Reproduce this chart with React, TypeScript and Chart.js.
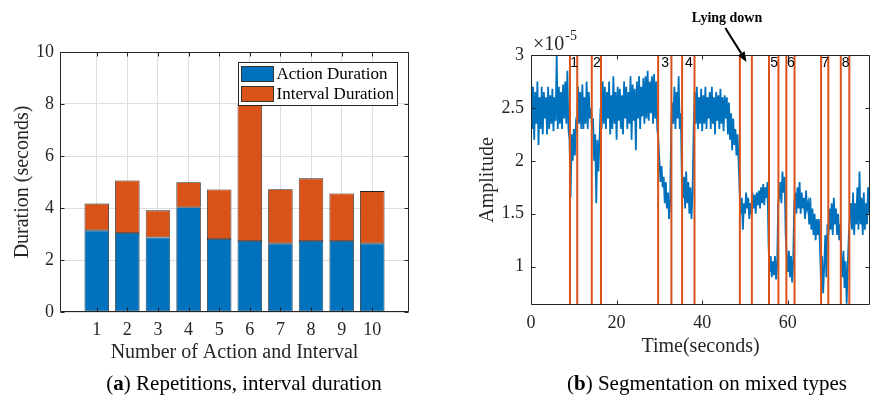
import React, { useEffect, useRef } from "react";
import { Chart, registerables } from "chart.js";

Chart.register(...registerables);

// ---------- (a) bar chart data ----------
const BAR_CATEGORIES = [1, 2, 3, 4, 5, 6, 7, 8, 9, 10];
const ACTION_DURATION = [3.14, 3.04, 2.87, 4.03, 2.81, 2.73, 2.64, 2.73, 2.73, 2.64];
const INTERVAL_DURATION = [1.03, 2.02, 1.04, 0.96, 1.9, 5.27, 2.08, 2.41, 1.83, 2.01];
const BAR_Y_TICKS = [0, 2, 4, 6, 8, 10];

// ---------- (b) segmentation data (amplitude in units of 1e-5) ----------
const SIGNAL_STEP_S = 0.25;
const SIGNAL = [
  2.85, 2.3, 2.7, 2.2, 2.65, 2.35, 2.75, 2.15, 2.6, 2.3, 2.7, 2.25, 2.65, 2.4, 2.6, 2.25, 2.7, 2.3, 2.62, 2.35,
  2.68, 2.28, 2.6, 2.38, 3.0, 2.3, 2.7, 2.35, 2.65, 2.3, 2.72, 2.4, 2.75, 2.35, 2.85, 2.3, 2.2, 1.65, 2.25, 2.0,
  2.3, 2.05, 2.35, 2.3, 2.7, 2.35, 2.65, 2.3, 2.72, 2.3, 2.6, 2.35, 2.75, 2.3, 2.65, 2.4, 2.5, 2.3, 2.4, 2.0,
  2.25, 1.6, 2.2, 1.9, 2.2, 2.5, 2.3, 2.75, 2.35, 2.7, 2.3, 2.65, 2.4, 2.75, 2.25, 2.62, 2.3, 2.8, 2.35, 2.65,
  2.2, 2.7, 2.38, 2.68, 2.3, 2.62, 2.25, 2.75, 2.4, 2.7, 2.3, 2.65, 2.35, 2.8, 2.2, 2.72, 2.38, 2.68, 2.1, 2.75,
  2.4, 2.8, 2.3, 2.7, 2.42, 2.78, 2.35, 2.8, 2.4, 2.85, 2.38, 2.75, 2.45, 2.8, 2.35, 2.82, 2.4, 2.75, 2.3, 2.2,
  2.0, 1.8, 1.95, 1.75, 1.85, 1.6, 1.8, 1.55, 1.7, 1.45, 1.6, 2.3, 2.55, 2.35, 2.7, 2.3, 2.65, 2.4, 2.8, 2.3,
  2.45, 1.8, 1.65, 1.85, 1.55, 1.9, 1.6, 1.8, 1.5, 1.75, 1.45, 1.7, 2.3, 2.65, 2.35, 2.7, 2.3, 2.6, 2.35, 2.68,
  2.28, 2.62, 2.35, 2.7, 2.3, 2.6, 2.4, 2.65, 2.3, 2.7, 2.35, 2.6, 2.25, 2.65, 2.38, 2.62, 2.3, 2.68, 2.35, 2.6,
  2.28, 2.62, 2.4, 2.6, 2.25, 2.55, 2.2, 2.45, 2.1, 2.4, 2.15, 2.3, 2.05, 2.25, 2.0, 1.7, 1.5, 1.65, 1.35, 1.6,
  1.5, 1.7, 1.55, 1.65, 1.45, 1.6, 1.5, 1.7, 1.55, 1.68, 1.5, 1.7, 1.58, 1.72, 1.55, 1.75, 1.6, 1.78, 1.58, 1.75,
  1.65, 1.8, 1.2, 0.95, 1.1, 0.9, 1.05, 0.92, 1.1, 0.88, 1.0, 1.6, 1.65, 1.8, 1.6, 1.9, 1.7, 1.85, 1.3, 1.1,
  0.95, 1.15, 0.9, 1.1, 0.85, 1.05, 1.6, 1.7, 1.5, 1.75, 1.55, 1.8, 1.5, 1.7, 1.55, 1.65, 1.45, 1.72, 1.55, 1.6,
  1.4, 1.65, 1.35, 1.55, 1.3, 1.5, 1.25, 1.45, 1.3, 1.45, 1.2, 0.85, 1.1, 0.75, 1.0, 1.3, 0.9, 1.4, 1.3, 1.55,
  1.35, 1.6, 1.3, 1.65, 1.4, 1.55, 1.3, 1.5, 1.25, 1.4, 1.1, 0.9, 1.15, 0.8, 1.05, 0.65, 1.0, 1.3, 1.45, 1.6,
  1.35, 1.7, 1.3, 1.6, 1.4, 1.75, 1.35, 1.9, 1.4, 1.65, 1.3, 1.7, 1.35, 1.6, 1.4, 1.75, 1.5,
];
const SEG_START = [9.1, 14.2, 29.7, 35.3, 48.8, 55.6, 59.66, 67.77, 72.38];
const SEG_END = [10.8, 16.35, 32.8, 38.2, 51.6, 57.8, 61.57, 69.46, 74.37];
const SEG_LABELS = ["1", "2", "3", "4", "", "5", "6", "7", "8"];
const TIME_TICKS = [0, 20, 40, 60];
const AMP_TICKS = [1, 1.5, 2, 2.5, 3];
const AMP_TICK_LABELS = ["1", "1.5", "2", "2.5", "3"];

const SERIF = '"Liberation Serif", "Times New Roman", serif';
const SANS = '"Liberation Sans", Arial, sans-serif';
const AXIS_COLOR = "#262626";
const BLUE = "#0072BD";
const ORANGE = "#D95319";

// MATLAB-like box with inward tick marks on all four sides
const matlabBox = (xt: number[], yt: number[], len: number) => ({
  id: "matlabBox",
  afterDatasetsDraw(chart: any) {
    const { ctx, chartArea: a, scales } = chart;
    const xs = scales.x;
    const ys = scales.y;
    const L = Math.round(a.left) + 0.5;
    const R = Math.round(a.right) - 0.5;
    const T = Math.round(a.top) + 0.5;
    const B = Math.round(a.bottom) - 0.5;
    ctx.save();
    ctx.strokeStyle = AXIS_COLOR;
    ctx.lineWidth = 1;
    ctx.beginPath();
    for (const v of xt) {
      const p = Math.round(xs.getPixelForValue(v)) + 0.5;
      ctx.moveTo(p, B);
      ctx.lineTo(p, B - len);
      ctx.moveTo(p, T);
      ctx.lineTo(p, T + len);
    }
    for (const v of yt) {
      const p = Math.round(ys.getPixelForValue(v)) + 0.5;
      ctx.moveTo(L, p);
      ctx.lineTo(L + len, p);
      ctx.moveTo(R, p);
      ctx.lineTo(R - len, p);
    }
    ctx.rect(L, T, R - L, B - T);
    ctx.stroke();
    ctx.restore();
  },
});

const barLegend = {
  id: "barLegend",
  afterDatasetsDraw(chart: any) {
    const { ctx, chartArea: a } = chart;
    const w = 159;
    const h = 43;
    const x = Math.round(a.right - 12 - w) + 0.5;
    const y = Math.round(a.top + 10) + 0.5;
    ctx.save();
    ctx.fillStyle = "#ffffff";
    ctx.fillRect(x, y, w, h);
    ctx.strokeStyle = AXIS_COLOR;
    ctx.lineWidth = 1;
    ctx.strokeRect(x, y, w, h);
    const items = chart.data.datasets;
    items.forEach((ds: any, i: number) => {
      const ry = y + 4 + i * 20;
      ctx.fillStyle = ds.backgroundColor;
      ctx.fillRect(x + 3, ry, 32, 15);
      ctx.strokeStyle = "#333";
      ctx.strokeRect(x + 3, ry, 32, 15);
      ctx.fillStyle = "#000";
      ctx.font = `17px ${SERIF}`;
      ctx.textBaseline = "middle";
      ctx.textAlign = "left";
      ctx.fillText(ds.label, x + 38, ry + 8);
    });
    ctx.restore();
  },
};

const segAnnotations = {
  id: "segAnnotations",
  afterDraw(chart: any) {
    const { ctx, chartArea: a, scales } = chart;
    const xs = scales.x;
    const ys = scales.y;
    ctx.save();
    // segment numbers
    ctx.fillStyle = "#000";
    ctx.font = `14px ${SANS}`;
    ctx.textAlign = "center";
    ctx.textBaseline = "middle";
    SEG_LABELS.forEach((lab, i) => {
      if (!lab) return;
      const px = (xs.getPixelForValue(SEG_START[i]) + xs.getPixelForValue(SEG_END[i])) / 2;
      ctx.fillText(lab, px + 0.5, a.top + 8);
    });
    // exponent label
    ctx.fillStyle = AXIS_COLOR;
    ctx.textAlign = "left";
    ctx.font = `20px ${SERIF}`;
    const base = "\u00d710";
    ctx.fillText(base, a.left + 2, a.top - 10);
    const bw = ctx.measureText(base).width;
    ctx.font = `14px ${SERIF}`;
    ctx.fillText("-5", a.left + 2 + bw + 1, a.top - 19);
    // "Lying down" annotation with arrow
    ctx.fillStyle = "#000";
    ctx.font = `bold 14px ${SERIF}`;
    ctx.textAlign = "center";
    ctx.fillText("Lying down", xs.getPixelForValue(45.8), ys.getPixelForValue(3.35));
    const x0 = xs.getPixelForValue(45.4);
    const y0 = ys.getPixelForValue(3.255);
    const x1 = xs.getPixelForValue(50.35);
    const y1 = ys.getPixelForValue(2.935);
    const ang = Math.atan2(y1 - y0, x1 - x0);
    const hl = 10;
    const hw = 4;
    const bx = x1 - hl * Math.cos(ang);
    const by = y1 - hl * Math.sin(ang);
    ctx.strokeStyle = "#000";
    ctx.lineWidth = 2;
    ctx.beginPath();
    ctx.moveTo(x0, y0);
    ctx.lineTo(bx, by);
    ctx.stroke();
    ctx.beginPath();
    ctx.moveTo(x1, y1);
    ctx.lineTo(bx + hw * Math.sin(ang), by - hw * Math.cos(ang));
    ctx.lineTo(bx - hw * Math.sin(ang), by + hw * Math.cos(ang));
    ctx.closePath();
    ctx.fill();
    ctx.restore();
  },
};

const tickFont = { family: SERIF, size: 18 };
const titleFont = { family: SERIF, size: 20 };

function barConfig(): any {
  return {
    type: "bar",
    data: {
      datasets: [
        {
          label: "Action Duration",
          data: BAR_CATEGORIES.map((c, i) => ({ x: c, y: ACTION_DURATION[i] })),
          backgroundColor: BLUE,
          borderColor: "#222",
          borderWidth: 0.8,
          borderSkipped: false,
          barPercentage: 0.8,
          categoryPercentage: 1,
        },
        {
          label: "Interval Duration",
          data: BAR_CATEGORIES.map((c, i) => ({ x: c, y: INTERVAL_DURATION[i] })),
          backgroundColor: ORANGE,
          borderColor: "#222",
          borderWidth: 0.8,
          borderSkipped: false,
          barPercentage: 0.8,
          categoryPercentage: 1,
        },
      ],
    },
    options: {
      animation: false,
      responsive: false,
      events: [],
      layout: { padding: { top: 52, right: 21, left: 0, bottom: 0 } },
      plugins: { legend: { display: false }, tooltip: { enabled: false } },
      scales: {
        x: {
          type: "linear",
          min: -0.2,
          max: 11.2,
          offset: false,
          stacked: true,
          afterBuildTicks: (s: any) => {
            s.ticks = BAR_CATEGORIES.map((v) => ({ value: v }));
          },
          afterFit: (s: any) => {
            s.height = 60;
          },
          ticks: { font: tickFont, color: AXIS_COLOR, padding: 7, autoSkip: false, maxRotation: 0, callback: (v: any) => String(v) },
          grid: { color: "#dedede", drawTicks: false, offset: false },
          border: { display: false },
          title: { display: true, text: "Number of Action and Interval", font: titleFont, color: AXIS_COLOR, padding: { top: 0, bottom: 7 } },
        },
        y: {
          min: 0,
          max: 10,
          stacked: true,
          afterBuildTicks: (s: any) => {
            s.ticks = BAR_Y_TICKS.map((v) => ({ value: v }));
          },
          afterFit: (s: any) => {
            s.width = 60;
          },
          ticks: { font: tickFont, color: AXIS_COLOR, padding: 6, callback: (v: any) => String(v) },
          grid: { color: "#dedede", drawTicks: false },
          border: { display: false },
          title: { display: true, text: "Duration (seconds)", font: titleFont, color: AXIS_COLOR, padding: { top: 11, bottom: 0 } },
        },
      },
    },
    plugins: [matlabBox(BAR_CATEGORIES, BAR_Y_TICKS, 4), barLegend],
  };
}

function segConfig(): any {
  const lineSets: any[] = [];
  SEG_START.forEach((s, i) => {
    [s, SEG_END[i]].forEach((t) => {
      lineSets.push({
        data: [
          { x: t, y: 0.638 },
          { x: t, y: 3 },
        ],
        borderColor: ORANGE,
        borderWidth: 2,
        pointRadius: 0,
        order: 0,
      });
    });
  });
  return {
    type: "line",
    data: {
      datasets: [
        ...lineSets,
        {
          data: SIGNAL.map((v, i) => ({ x: i * SIGNAL_STEP_S, y: v })),
          borderColor: BLUE,
          borderWidth: 1.8,
          pointRadius: 0,
          tension: 0,
          order: 1,
        },
      ],
    },
    options: {
      animation: false,
      responsive: false,
      events: [],
      layout: { padding: { top: 55, right: 1, left: 0, bottom: 0 } },
      plugins: { legend: { display: false }, tooltip: { enabled: false } },
      scales: {
        x: {
          type: "linear",
          min: 0,
          max: 79.2,
          afterBuildTicks: (s: any) => {
            s.ticks = TIME_TICKS.map((v) => ({ value: v }));
          },
          afterFit: (s: any) => {
            s.height = 67;
          },
          ticks: { font: tickFont, color: AXIS_COLOR, padding: 7, autoSkip: false, maxRotation: 0, callback: (v: any) => String(v) },
          grid: { display: false, drawTicks: false },
          border: { display: false },
          title: { display: true, text: "Time(seconds)", font: titleFont, color: AXIS_COLOR, padding: { top: 0, bottom: 13 } },
        },
        y: {
          min: 0.638,
          max: 3,
          afterBuildTicks: (s: any) => {
            s.ticks = AMP_TICKS.map((v) => ({ value: v }));
          },
          afterFit: (s: any) => {
            s.width = 101;
          },
          ticks: {
            font: tickFont,
            color: AXIS_COLOR,
            padding: 7,
            callback: (v: any) => {
              const k = AMP_TICKS.indexOf(Number(v));
              return k >= 0 ? AMP_TICK_LABELS[k] : "";
            },
          },
          grid: { display: false, drawTicks: false },
          border: { display: false },
          title: { display: true, text: "Amplitude", font: titleFont, color: AXIS_COLOR, padding: { top: 46, bottom: 0 } },
        },
      },
    },
    plugins: [matlabBox(TIME_TICKS, AMP_TICKS, 4), segAnnotations],
  };
}

function ChartCanvas(props: { left: number; width: number; height: number; make: () => any }) {
  const ref = useRef<HTMLCanvasElement>(null);
  useEffect(() => {
    const chart = new Chart(ref.current as HTMLCanvasElement, props.make());
    return () => chart.destroy();
  }, []);
  return (
    <canvas
      ref={ref}
      width={props.width}
      height={props.height}
      style={{ position: "absolute", left: props.left, top: 0, width: props.width, height: props.height }}
    />
  );
}

export default function App() {
  const cap: React.CSSProperties = {
    position: "absolute",
    top: 371,
    fontFamily: SERIF,
    fontSize: 21,
    lineHeight: "24px",
    color: "#000",
    textAlign: "center",
    whiteSpace: "nowrap",
  };
  return (
    <div style={{ position: "fixed", left: 0, top: 0, width: 871, height: 403, background: "#fff", overflow: "hidden" }}>
      <ChartCanvas left={0} width={430} height={372} make={barConfig} />
      <ChartCanvas left={430} width={441} height={372} make={segConfig} />
      <div style={{ ...cap, left: 0, width: 488 }}>
        (<b>a</b>) Repetitions, interval duration
      </div>
      <div style={{ ...cap, left: 543, width: 328 }}>
        (<b>b</b>) Segmentation on mixed types
      </div>
    </div>
  );
}
